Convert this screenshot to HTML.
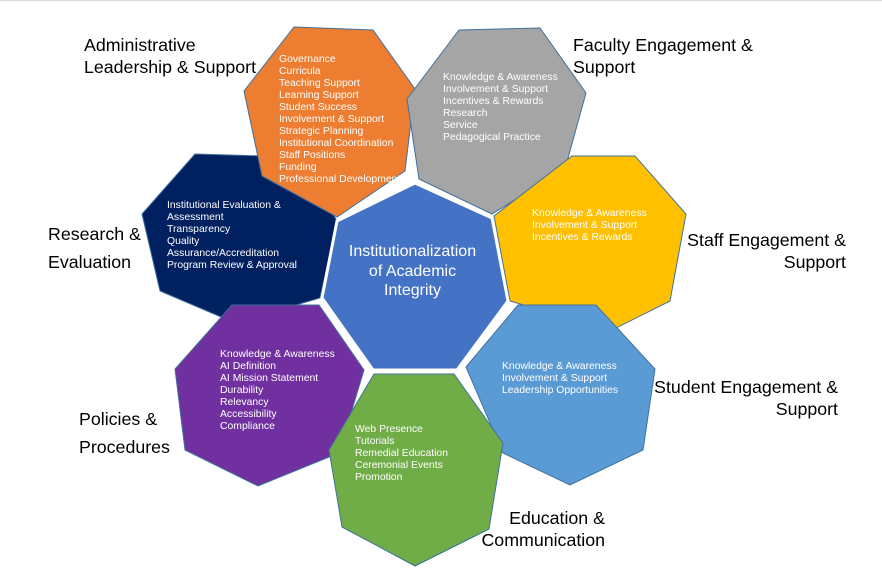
<!DOCTYPE html>
<html><head><meta charset="utf-8"><style>
body{margin:0;background:#fff;}
.w{position:relative;width:882px;height:577px;overflow:hidden;font-family:"Liberation Sans",Arial,sans-serif;border-top:1px solid #d9d9d9;box-sizing:border-box}
svg{position:absolute;left:0;top:0}
.t{position:absolute;color:#fff;font-size:10.4px;line-height:12px;white-space:nowrap}
.l{position:absolute;color:#000;font-size:17.8px;white-space:nowrap}
</style></head><body><div class="w">
<svg width="882" height="577">
<g stroke="#41719c" stroke-width="1">
<polygon fill="#002060" points="195,153 300,156 337,220 320,297 235,322 160,290 142,213"/>
<polygon fill="#ed7d31" points="294,26 373,29 415,88 405,170 337,216 262,175 244,90"/>
<polygon fill="#a5a5a5" points="459,29 540,27 586,92 565,168 492,213 419,178 407,98"/>
<polygon fill="#ffc000" points="572,155 635,155 686,213 670,300 610,330 510,300 494,215"/>
<polygon fill="#7030a0" points="232,304 319,304 364,369 339,452 258,485 185,449 175,368"/>
<polygon fill="#5b9bd5" points="518,304 596,304 655,368 643,449 570,484 503,452 466,366"/>
<polygon fill="#70ad47" points="374,373 454,373 503,442 489,528 415,565 342,526 329,449"/>
</g>
<polygon fill="#4472c4" stroke="#fff" stroke-width="3" points="415,182 492,217 508,300 457,369 373,369 322,297 337,220"/>
</svg>
<div class="t" style="left:279px;top:53px">Governance<br>Curricula<br>Teaching Support<br>Learning Support<br>Student Success<br>Involvement &amp; Support<br>Strategic Planning<br>Institutional Coordination<br>Staff Positions<br>Funding<br>Professional Development</div>
<div class="t" style="left:443px;top:71px">Knowledge &amp; Awareness<br>Involvement &amp; Support<br>Incentives &amp; Rewards<br>Research<br>Service<br>Pedagogical Practice</div>
<div class="t" style="left:167px;top:199px">Institutional Evaluation &amp;<br>Assessment<br>Transparency<br>Quality<br>Assurance/Accreditation<br>Program Review &amp; Approval</div>
<div class="t" style="left:532px;top:207px">Knowledge &amp; Awareness<br>Involvement &amp; Support<br>Incentives &amp; Rewards</div>
<div class="t" style="left:502px;top:360px">Knowledge &amp; Awareness<br>Involvement &amp; Support<br>Leadership Opportunities</div>
<div class="t" style="left:220px;top:348px">Knowledge &amp; Awareness<br>AI Definition<br>AI Mission Statement<br>Durability<br>Relevancy<br>Accessibility<br>Compliance</div>
<div class="t" style="left:355px;top:423px">Web Presence<br>Tutorials<br>Remedial Education<br>Ceremonial Events<br>Promotion</div>
<div style="position:absolute;left:320px;width:185px;top:241px;text-align:center;color:#fff;font-size:16px;line-height:19.5px">Institutionalization<br>of Academic<br>Integrity</div>
<div class="l" style="left:84px;top:33px;line-height:22px">Administrative<br>Leadership &amp; Support</div>
<div class="l" style="left:573px;top:33px;line-height:22px">Faculty Engagement &amp;<br>Support</div>
<div class="l" style="left:48px;top:219px;line-height:28px">Research &amp;<br>Evaluation</div>
<div class="l" style="right:36px;top:228px;line-height:22px;text-align:right">Staff Engagement &amp;<br>Support</div>
<div class="l" style="right:44px;top:375px;line-height:22px;text-align:right">Student Engagement &amp;<br>Support</div>
<div class="l" style="left:79px;top:404px;line-height:28px">Policies &amp;<br>Procedures</div>
<div class="l" style="right:277px;top:506px;line-height:22px;text-align:right">Education &amp;<br>Communication</div>
</div></body></html>
